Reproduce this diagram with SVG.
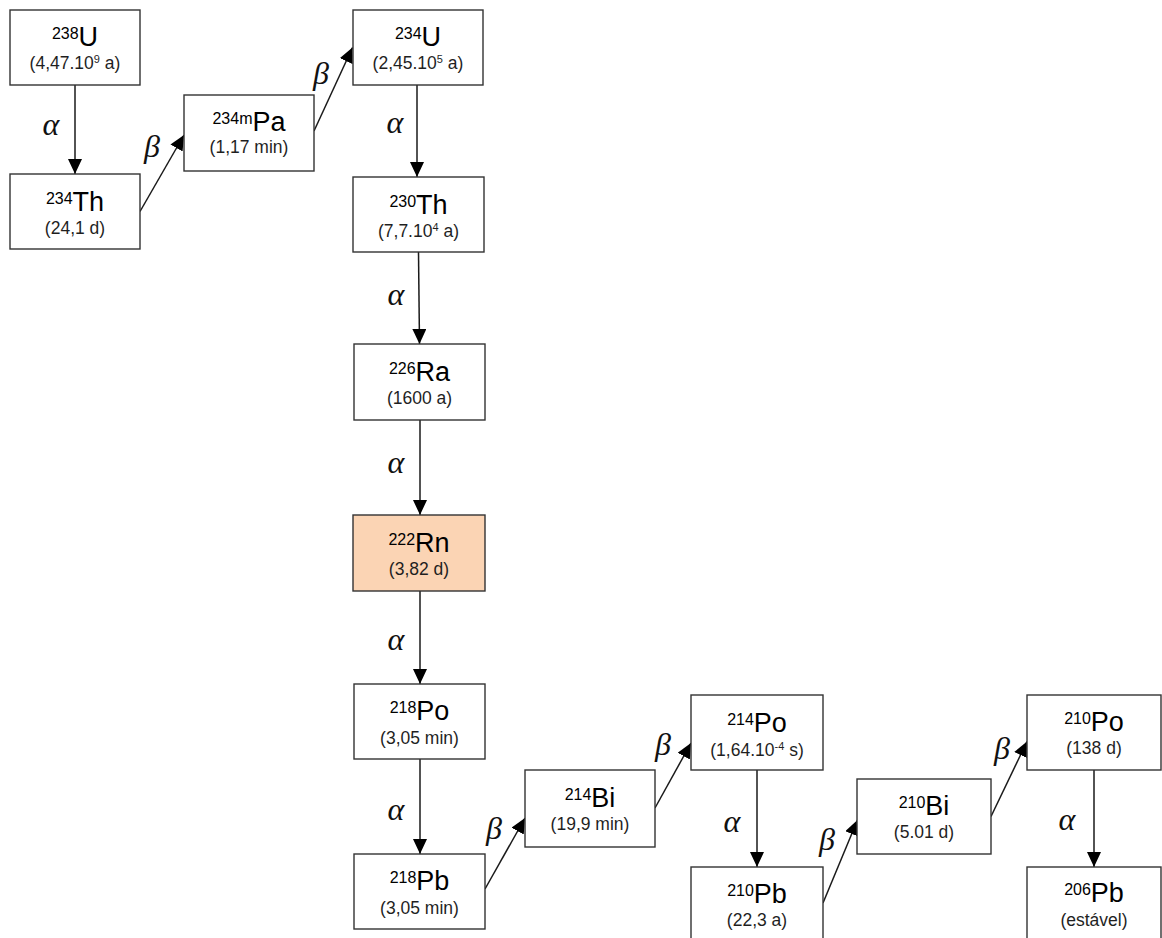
<svg xmlns="http://www.w3.org/2000/svg" width="1162" height="938" viewBox="0 0 1162 938">
<defs>
<style>
.box{fill:#ffffff;stroke:#333333;stroke-width:1.4}
.rn{fill:#fbd4b4}
.sym{font-family:"Liberation Sans",Arial,sans-serif;font-size:27px;fill:#000;text-anchor:middle}
.sup{font-size:16px}
.sub{font-family:"Liberation Sans",Arial,sans-serif;font-size:17.5px;fill:#1f1f1f;text-anchor:middle}
.ssup{font-size:11px}
.gk{font-family:"Liberation Serif","Times New Roman",serif;font-style:italic;font-size:32px;fill:#111;text-anchor:middle}
.arr{stroke:#1a1a1a;stroke-width:1.5;fill:none;marker-end:url(#ah)}
</style>
<marker id="ah" markerUnits="userSpaceOnUse" markerWidth="15" markerHeight="14" refX="15" refY="7" orient="auto" viewBox="0 0 15 14">
<path d="M0,0 L15,7 L0,14 Z" fill="#000"/>
</marker>
</defs>
<rect x="0" y="0" width="1162" height="938" fill="#ffffff"/>

<g id="connectors">
<line class="arr" x1="75" y1="85" x2="75" y2="174"/>
<line class="arr" x1="140" y1="211.5" x2="184" y2="135"/>
<line class="arr" x1="314" y1="131" x2="352.5" y2="47.5"/>
<line class="arr" x1="417" y1="85" x2="417" y2="177"/>
<line class="arr" x1="418.5" y1="252" x2="419.5" y2="344"/>
<line class="arr" x1="420" y1="420" x2="420" y2="515"/>
<line class="arr" x1="420" y1="591" x2="420" y2="684"/>
<line class="arr" x1="420" y1="759" x2="420" y2="854"/>
<line class="arr" x1="485" y1="889" x2="525" y2="818"/>
<line class="arr" x1="655" y1="808" x2="691" y2="743"/>
<line class="arr" x1="757" y1="770" x2="757" y2="867"/>
<line class="arr" x1="823" y1="903" x2="857.5" y2="820"/>
<line class="arr" x1="991" y1="816.5" x2="1027" y2="741.5"/>
<line class="arr" x1="1094" y1="770" x2="1094" y2="867"/>
<text class="gk" x="51" y="135">α</text>
<text class="gk" x="152" y="157">β</text>
<text class="gk" x="321" y="84">β</text>
<text class="gk" x="395" y="133">α</text>
<text class="gk" x="396" y="305">α</text>
<text class="gk" x="396" y="473">α</text>
<text class="gk" x="396" y="650">α</text>
<text class="gk" x="396" y="820">α</text>
<text class="gk" x="494" y="839">β</text>
<text class="gk" x="663" y="755">β</text>
<text class="gk" x="732" y="832">α</text>
<text class="gk" x="827" y="850">β</text>
<text class="gk" x="1002" y="759">β</text>
<text class="gk" x="1067" y="830">α</text>
</g>

<g id="U238">
<rect class="box" x="10" y="10" width="130" height="75"/>
<text class="sym" x="75" y="46"><tspan class="sup" dy="-7">238</tspan><tspan dy="7">U</tspan></text>
<text class="sub" x="75" y="69">(4,47.10<tspan class="ssup" dy="-6">9</tspan><tspan dy="6"> a)</tspan></text>
</g>
<g id="Th234">
<rect class="box" x="10" y="174" width="130" height="75"/>
<text class="sym" x="75" y="211"><tspan class="sup" dy="-7">234</tspan><tspan dy="7">Th</tspan></text>
<text class="sub" x="75" y="234">(24,1 d)</text>
</g>
<g id="Pa234m">
<rect class="box" x="184" y="95" width="130" height="76"/>
<text class="sym" x="249" y="131"><tspan class="sup" dy="-7">234m</tspan><tspan dy="7">Pa</tspan></text>
<text class="sub" x="249" y="153">(1,17 min)</text>
</g>
<g id="U234">
<rect class="box" x="353" y="10" width="130" height="75"/>
<text class="sym" x="418" y="46"><tspan class="sup" dy="-7">234</tspan><tspan dy="7">U</tspan></text>
<text class="sub" x="418" y="69">(2,45.10<tspan class="ssup" dy="-6">5</tspan><tspan dy="6"> a)</tspan></text>
</g>
<g id="Th230">
<rect class="box" x="353" y="177" width="131" height="75"/>
<text class="sym" x="418.5" y="214"><tspan class="sup" dy="-7">230</tspan><tspan dy="7">Th</tspan></text>
<text class="sub" x="418.5" y="237">(7,7.10<tspan class="ssup" dy="-6">4</tspan><tspan dy="6"> a)</tspan></text>
</g>
<g id="Ra226">
<rect class="box" x="354" y="344" width="131" height="76"/>
<text class="sym" x="419.5" y="381"><tspan class="sup" dy="-7">226</tspan><tspan dy="7">Ra</tspan></text>
<text class="sub" x="419.5" y="404">(1600 a)</text>
</g>
<g id="Rn222">
<rect class="box rn" x="353" y="515" width="132" height="76"/>
<text class="sym" x="419" y="552"><tspan class="sup" dy="-7">222</tspan><tspan dy="7">Rn</tspan></text>
<text class="sub" x="419" y="575">(3,82 d)</text>
</g>
<g id="Po218">
<rect class="box" x="354" y="684" width="131" height="75"/>
<text class="sym" x="419.5" y="720"><tspan class="sup" dy="-7">218</tspan><tspan dy="7">Po</tspan></text>
<text class="sub" x="419.5" y="744">(3,05 min)</text>
</g>
<g id="Pb218">
<rect class="box" x="354" y="854" width="131" height="75"/>
<text class="sym" x="419.5" y="890"><tspan class="sup" dy="-7">218</tspan><tspan dy="7">Pb</tspan></text>
<text class="sub" x="419.5" y="914">(3,05 min)</text>
</g>
<g id="Bi214">
<rect class="box" x="525" y="770" width="130" height="77"/>
<text class="sym" x="590" y="807"><tspan class="sup" dy="-7">214</tspan><tspan dy="7">Bi</tspan></text>
<text class="sub" x="590" y="830">(19,9 min)</text>
</g>
<g id="Po214">
<rect class="box" x="691" y="695" width="132" height="75"/>
<text class="sym" x="757" y="732"><tspan class="sup" dy="-7">214</tspan><tspan dy="7">Po</tspan></text>
<text class="sub" x="757" y="756">(1,64.10<tspan class="ssup" dy="-6">-4</tspan><tspan dy="6"> s)</tspan></text>
</g>
<g id="Pb210">
<rect class="box" x="691" y="867" width="132" height="80"/>
<text class="sym" x="757" y="903"><tspan class="sup" dy="-7">210</tspan><tspan dy="7">Pb</tspan></text>
<text class="sub" x="757" y="926">(22,3 a)</text>
</g>
<g id="Bi210">
<rect class="box" x="857" y="779" width="134" height="75"/>
<text class="sym" x="924" y="815"><tspan class="sup" dy="-7">210</tspan><tspan dy="7">Bi</tspan></text>
<text class="sub" x="924" y="838">(5.01 d)</text>
</g>
<g id="Po210">
<rect class="box" x="1027" y="695" width="134" height="75"/>
<text class="sym" x="1094" y="731"><tspan class="sup" dy="-7">210</tspan><tspan dy="7">Po</tspan></text>
<text class="sub" x="1094" y="754">(138 d)</text>
</g>
<g id="Pb206">
<rect class="box" x="1027" y="867" width="134" height="80"/>
<text class="sym" x="1094" y="902"><tspan class="sup" dy="-7">206</tspan><tspan dy="7">Pb</tspan></text>
<text class="sub" x="1094" y="926">(estável)</text>
</g>
</svg>
